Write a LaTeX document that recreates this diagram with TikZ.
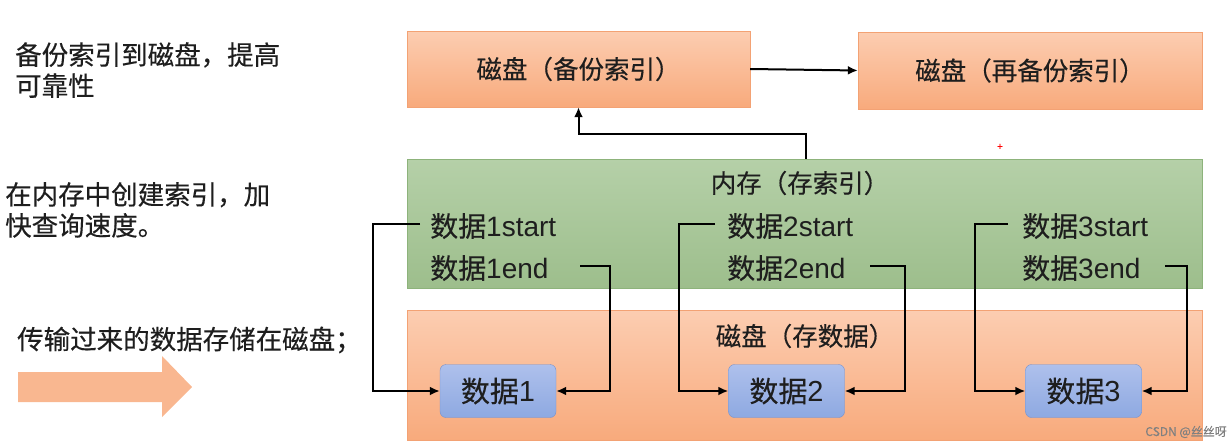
\documentclass[tikz,border=0pt]{standalone}
\usepackage{fontspec}
\setmainfont{Noto Sans CJK SC}[FakeBold=0.35]
\newfontfamily\lat{Liberation Sans}
\usetikzlibrary{arrows.meta}
\definecolor{disktop}{HTML}{FCCDB1}
\definecolor{diskbot}{HTML}{F8AA7C}
\definecolor{diskline}{HTML}{F3A274}
\definecolor{memtop}{HTML}{B5D0A8}
\definecolor{membot}{HTML}{9DBE8C}
\definecolor{memline}{HTML}{8DB37B}
\definecolor{datatop}{HTML}{AEC0EC}
\definecolor{databot}{HTML}{8EA9E1}
\definecolor{dataline}{HTML}{7591CC}
\definecolor{inkgray}{HTML}{1E1E1E}
\tikzset{
  disk/.style={draw=diskline, top color=disktop, bottom color=diskbot, inner sep=0pt},
  mem/.style={draw=memline, top color=memtop, bottom color=membot, inner sep=0pt},
  databox/.style={draw=dataline, top color=datatop, bottom color=databot, rounded corners=6pt,
    minimum width=116pt, minimum height=53pt, text=inkgray, font=\fontsize{29}{31}\selectfont},
  lbl/.style={text=inkgray, inner sep=0pt, font=\fontsize{25.5}{28}\selectfont},
  idx/.style={text=inkgray, inner sep=0pt, font=\fontsize{28}{30}\selectfont},
  note/.style={text=inkgray, inner sep=0pt, align=left, font=\fontsize{26.5}{31}\selectfont},
  conn/.style={line width=2pt, -{Latex[length=10pt,width=9pt]}}
}
\begin{document}
\begin{tikzpicture}[x=1pt,y=-1pt]
\useasboundingbox (0,0) rectangle (1231,447);
% notes on the left
\node[note, anchor=north west] (n1) at (15,42) {备份索引到磁盘，提高\\可靠性};
\node[note, anchor=north west] (n2) at (5,182) {在内存中创建索引，加\\快查询速度。};
\node[note, anchor=west] (n3) at (17,340) {传输过来的数据存储在磁盘；};
\fill[diskbot!85!white] (18,372) -- (162,372) -- (162,356) -- (192,387) -- (162,417) -- (162,402) -- (18,402) -- cycle;

% boxes
\node[disk, minimum width=343pt, minimum height=76pt] (bak) at (578.5,69) {};
\node[lbl] at (bak) {磁盘（备份索引）};
\node[disk, minimum width=344pt, minimum height=77pt] (rebak) at (1030,70.5) {};
\node[lbl] at (rebak) {磁盘（再备份索引）};
\node[mem, minimum width=795pt, minimum height=129pt] (ram) at (804.5,223.5) {};
\node[lbl] (ramtitle) at (800,183) {内存（存索引）};
\node[disk, minimum width=795pt, minimum height=130pt] (store) at (804.5,375) {};
\node[lbl] (storetitle) at (805,336) {磁盘（存数据）};

\draw[conn] (bak.east) -- (rebak.west);
\coordinate (up) at (806,134);
\draw[conn] (ram.north -| up) -- (up) -| (bak.south);

% three data blocks
\foreach \i/\bx/\tx/\ss/\se/\es/\ee in {1/498/430/420/373/580/610, 2/786.5/727/715/679/870/905, 3/1083.5/1022/1008/975/1165/1187}
{
	\node[idx, anchor=west] (s\i) at (\tx,226) {数据{\lat\i start}};
	\node[idx, anchor=west] (e\i) at (\tx,268) {数据{\lat\i end}};
	\node[databox] (d\i) at (\bx,391) {数据{\lat\i}};
	\coordinate (sa\i) at (\ss,224);
	\coordinate (ea\i) at (\es,266);
	\draw[conn] (sa\i) -- (\se,224) |- (d\i.west);
	\draw[conn] (ea\i) -- (\ee,266) |- (d\i.east);
}

\node[text=red, inner sep=0pt, font=\fontsize{10}{10}\selectfont] (mark) at (1000,147) {+};
\node[text=gray, inner sep=0pt, anchor=east, font=\fontsize{12}{12}\selectfont] (wm) at (1227,432) {CSDN @丝丝呀};
\end{tikzpicture}
\end{document}
